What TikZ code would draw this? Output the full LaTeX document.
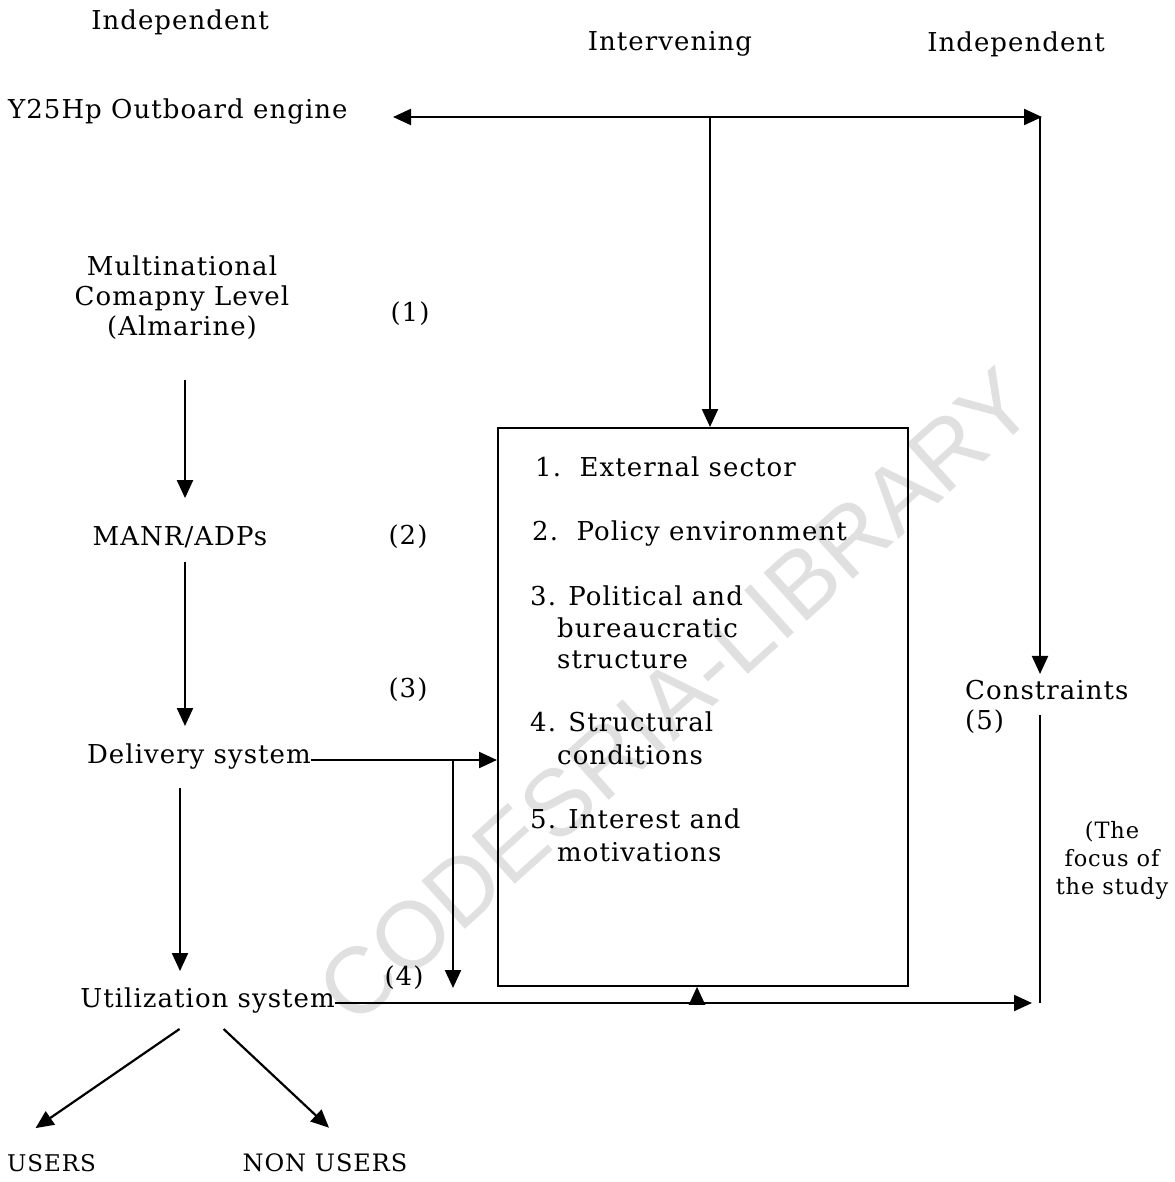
\documentclass[tikz,border=0pt]{standalone}
\usepackage{fontspec}
\setmainfont[LetterSpace=4]{DejaVu Serif}
\newfontfamily\marksans{Liberation Sans}
\usetikzlibrary{arrows.meta}
\begin{document}
\begin{tikzpicture}[x=1pt,y=-1pt,
  lbl/.style={font=\fontsize{26}{30}\selectfont, inner sep=0pt},
  small/.style={font=\fontsize{22.5}{28}\selectfont, inner sep=0pt},
  item/.style={lbl, anchor=west},
  link/.style={line width=2.2pt},
  flow/.style={link, -{Triangle[length=18pt,width=16pt]}},
  frame/.style={draw, line width=1.8pt, inner sep=0pt}]
\useasboundingbox (0,0) rectangle (1174,1182);
\fill[white] (0,0) rectangle (1174,1182);

% library stamp behind the drawing
\node[font=\marksans\fontsize{94}{94}\selectfont, text=black!12, rotate=42] (stamp) at (676,696) {CODESRIA-LIBRARY};

% column headings
\node[lbl] (indL) at (180,22) {Independent};
\node[lbl] (interv) at (670,44) {Intervening};
\node[lbl] (indR) at (1016,44) {Independent};

% left-hand chain
\node[lbl, anchor=west] (engine) at (8,112) {Y25Hp Outboard engine};
\node[lbl, align=center] (multi) at (182,298) {Multinational\\Comapny Level\\(Almarine)};
\node[lbl] (n1) at (410,314) {(1)};
\node[lbl] (manr) at (180,537) {MANR/ADPs};
\node[lbl] (n2) at (408,537) {(2)};
\node[lbl] (n3) at (408,690) {(3)};
\node[lbl, anchor=east] (deliv) at (311,757) {Delivery system};
\node[lbl] (n4) at (404,978) {(4)};
\node[lbl, anchor=east] (util) at (335,1000) {Utilization system};
\node[lbl, font=\fontsize{23}{26}\selectfont, anchor=west] (users) at (7,1163) {USERS};
\node[lbl, font=\fontsize{24}{28}\selectfont] (nonusers) at (325,1163) {NON USERS};

% right-hand column
\node[lbl, anchor=west] (constr) at (965,690) {Constraints};
\node[lbl, anchor=west] (n5) at (965,722) {(5)};
\node[small, align=center] (focus) at (1112,860) {(The\\focus of\\the study};

% intervening factors box
\node[frame, minimum width=410pt, minimum height=558pt, anchor=north west] (box) at (497,427) {};
\node[item] (f1) at (535,467) {1.\ \ External sector};
\node[item] (f2) at (532,534) {2.\ \ Policy environment};
\node[item] (f3) at (530,596) {3. Political and};
\node[item] (f3b) at (557,628) {bureaucratic};
\node[item] (f3c) at (557,660) {structure};
\node[item] (f4) at (530,722) {4. Structural};
\node[item] (f4b) at (557,755) {conditions};
\node[item] (f5) at (530,819) {5. Interest and};
\node[item] (f5b) at (557,852) {motivations};

% junction points
\coordinate (eL) at (393,117);
\coordinate (eM) at (710,117);
\coordinate (eR) at (1040,117);
\coordinate (dJ) at (453,760);
\coordinate (uJ) at (697,1003);
\coordinate (cTop) at (1040,715);
\coordinate (cBot) at (1040,1003);

% top feed line
\draw[flow] (eM) -- (eL);
\draw[flow] (eM) -- ([xshift=2pt]eR);
\draw[flow] (eR) -- ([yshift=6pt]eR |- constr.north);
\draw[flow] (eM) -- (eM |- box.north);

% downward chain
\draw[flow] ([xshift=3pt,yshift=-40pt]multi.south) -- ([xshift=5pt,yshift=28pt]manr.north);
\draw[flow] ([xshift=5pt,yshift=-14pt]manr.south) -- ([xshift=5pt,yshift=18pt]manr.south |- deliv.north);
\draw[flow] ([yshift=-18pt]deliv.south -| manr.south) -- ([yshift=16pt]manr.south |- util.north);

% delivery into box, with branch down
\draw[flow] ([yshift=-3pt]deliv.east) -- ([yshift=-3pt]deliv.east -| box.west);
\draw[flow] (dJ) -- ([yshift=12pt]dJ |- util.east);

% utilization line to constraints and into box
\draw[flow] ([yshift=-3pt]util.east) -- ([xshift=-8pt]cBot);
\draw[link] (cTop) -- (cBot);
\draw[flow] (uJ) -- (uJ |- box.south);

% users / non users
\draw[flow] ([xshift=-28pt,yshift=-16pt]util.south) -- ([xshift=-16pt,yshift=26pt]users.north);
\draw[flow] ([xshift=16pt,yshift=-16pt]util.south) -- ([xshift=4pt,yshift=26pt]nonusers.north);
\end{tikzpicture}
\end{document}
